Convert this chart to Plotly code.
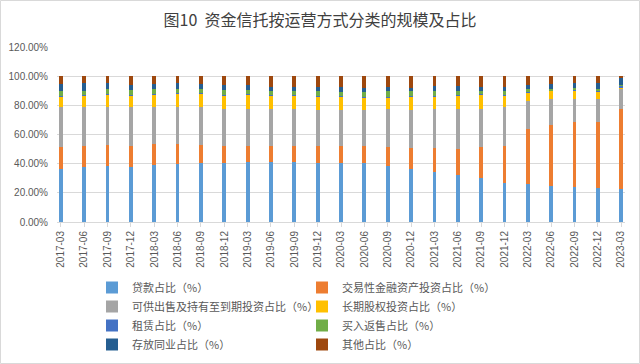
import plotly.graph_objects as go

quarters = ["2017-03", "2017-06", "2017-09", "2017-12",
            "2018-03", "2018-06", "2018-09", "2018-12",
            "2019-03", "2019-06", "2019-09", "2019-12",
            "2020-03", "2020-06", "2020-09", "2020-12",
            "2021-03", "2021-06", "2021-09", "2021-12",
            "2022-03", "2022-06", "2022-09", "2022-12",
            "2023-03"]

loans = [36.6, 37.7, 38.4, 38.0, 39.1, 39.5, 40.2, 40.7, 40.9, 40.9, 40.9, 40.5,
         40.7, 40.2, 38.4, 36.4, 34.3, 32.3, 30.0, 27.0, 25.9, 24.8, 24.3, 23.4, 22.5]
trading = [14.8, 14.1, 14.3, 14.0, 14.1, 13.7, 12.5, 11.1, 11.4, 11.4, 11.1, 11.3,
           11.6, 11.6, 13.0, 14.1, 16.2, 17.9, 21.1, 24.8, 37.7, 41.8, 44.1, 45.5, 55.0]
afs_htm = [27.2, 26.8, 26.4, 26.6, 25.4, 25.4, 25.9, 25.5, 25.4, 25.0, 25.3, 24.8,
           24.3, 24.8, 25.9, 26.1, 26.8, 27.3, 26.6, 26.8, 19.1, 17.5, 15.7, 15.2, 14.1]
equity = [7.5, 8.2, 8.2, 8.4, 8.9, 9.8, 9.6, 9.7, 9.6, 9.5, 9.5, 9.3,
          9.3, 8.9, 8.2, 9.3, 8.8, 9.5, 9.6, 8.4, 6.4, 5.9, 5.9, 5.2, 0.8]
lease = [0.3, 0.3, 0.3, 0.3, 0.3, 0.3, 0.3, 0.3, 0.3, 0.3, 0.3, 0.3,
         0.3, 0.3, 0.3, 0.3, 0.3, 0.3, 0.3, 0.3, 0.3, 0.3, 0.3, 0.3, 1.0]
repo = [3.6, 2.9, 3.8, 3.4, 3.3, 2.7, 2.9, 3.4, 3.1, 2.9, 2.9, 3.8,
        3.1, 3.5, 4.0, 3.6, 3.6, 2.7, 2.4, 2.7, 2.0, 1.1, 1.7, 1.8, 0.6]
interbank = [4.8, 5.0, 3.8, 3.4, 3.2, 3.6, 2.9, 3.2, 3.2, 2.7, 2.7, 2.3,
             3.0, 2.5, 2.5, 2.2, 3.0, 3.0, 2.5, 2.7, 2.7, 3.4, 3.0, 3.8, 4.6]
other = [5.2, 5.0, 4.8, 5.9, 5.7, 5.0, 5.7, 6.1, 6.1, 7.3, 7.3, 7.7,
         7.7, 8.2, 7.7, 8.0, 7.0, 7.0, 7.5, 7.3, 5.9, 5.2, 5.0, 4.8, 1.4]

series_names = ["贷款占比（%）", "交易性金融资产投资占比（%）",
                "可供出售及持有至到期投资占比（%）", "长期股权投资占比（%）",
                "租赁占比（%）", "买入返售占比（%）",
                "存放同业占比（%）", "其他占比（%）"]
series_values = [loans, trading, afs_htm, equity, lease, repo, interbank, other]
series_colors = ["#5B9BD5", "#ED7D31", "#A5A5A5", "#FFC000",
                 "#4472C4", "#70AD47", "#255E91", "#9E480E"]

FONT = "Noto Sans CJK SC"

fig = go.Figure()
for name, vals, col in zip(series_names, series_values, series_colors):
    fig.add_trace(go.Bar(x=quarters, y=vals, name=name, marker_color=col,
                         marker_line_width=0, width=0.16))

W, H = 640, 364
ml, mr, mt, mb = 57, 15, 47, 142
pw = W - ml - mr
ph = H - mt - mb

fig.update_layout(
    width=W, height=H,
    barmode="stack",
    bargap=0,
    plot_bgcolor="white", paper_bgcolor="white",
    margin=dict(l=ml, r=mr, t=mt, b=mb, pad=0, autoexpand=False),
    font=dict(family=FONT, size=10, color="#595959"),
    title=dict(text="图10  资金信托按运营方式分类的规模及占比",
               x=0.5, xref="container", xanchor="center",
               y=1 - 20 / H, yref="container", yanchor="middle",
               font=dict(family=FONT, size=16, color="#404040")),
    xaxis=dict(type="category", range=[-0.167, 24.167],
               tickangle=-90, tickfont=dict(family="Liberation Sans", size=10, color="#595959"),
               ticks="outside", ticklen=4, tickcolor="#D9D9D9",
               showline=True, linecolor="#D9D9D9", linewidth=1,
               showgrid=False, fixedrange=True),
    yaxis=dict(range=[0, 120], dtick=20, tickformat=".2f", ticksuffix="%",
               tickfont=dict(family="Liberation Sans", size=10, color="#595959"),
               showgrid=True, gridcolor="#D9D9D9", gridwidth=1,
               zeroline=False, showline=False, ticklabelstandoff=8,
               fixedrange=True),
    legend=dict(orientation="h", traceorder="normal",
                x=(92 - ml) / pw, xref="paper", xanchor="left",
                y=-(273 - (mt + ph)) / ph, yref="paper", yanchor="top",
                entrywidth=165, entrywidthmode="pixels",
                itemwidth=30,
                font=dict(family=FONT, size=11, color="#595959"),
                tracegroupgap=0),
    showlegend=True,
    shapes=[dict(type="rect", xref="paper", yref="paper",
                 x0=(0.5 - ml) / pw, x1=(W - 0.5 - ml) / pw,
                 y0=-(H - 0.5 - mt - ph) / ph, y1=(mt + ph - 0.5) / ph,
                 line=dict(color="#D9D9D9", width=1), layer="below")],
)

fig.write_html("out.html",
               config={"displayModeBar": False},
               post_script="document.body.style.margin='0';document.body.style.overflow='hidden';")
